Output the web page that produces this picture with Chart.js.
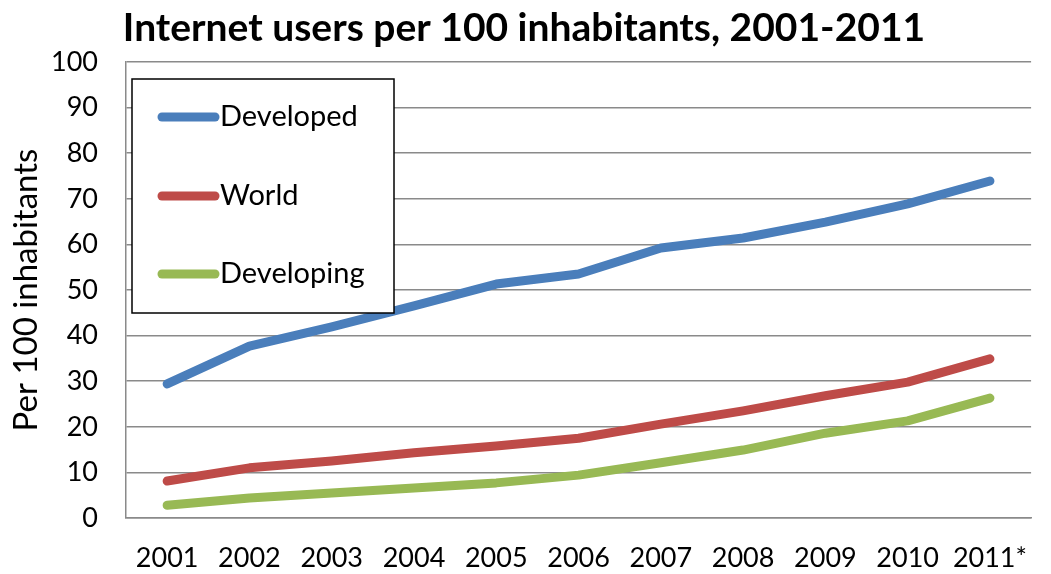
<!DOCTYPE html>
<html>
<head>
<meta charset="utf-8">
<script src="https://cdn.jsdelivr.net/npm/chart.js@4.4.1/dist/chart.umd.min.js"></script>
<style>
html,body{margin:0;padding:0;background:#fff;}
#wrap{width:1051px;height:574px;position:relative;}
</style>
</head>
<body>
<div id="wrap"><canvas id="c" width="1051" height="574"></canvas></div>
<script>
const years = ["2001","2002","2003","2004","2005","2006","2007","2008","2009","2010","2011*"];
const developed = [29.4, 37.7, 41.9, 46.5, 51.3, 53.5, 59.2, 61.4, 64.9, 68.9, 73.9];
const world = [8.1, 11.0, 12.5, 14.3, 15.8, 17.5, 20.6, 23.5, 26.8, 29.8, 34.9];
const developing = [2.8, 4.4, 5.5, 6.6, 7.7, 9.4, 12.1, 14.9, 18.6, 21.3, 26.3];
const seriesNames = ["Developed", "World", "Developing"];
const seriesColors = ["#4a7ebb", "#be4b48", "#98b954"];
const chartTitle = "Internet users per 100 inhabitants, 2001-2011";
const yTitle = "Per 100 inhabitants";

const FONT = "Lato, 'Open Sans', sans-serif";
const gridColor = "#8a8a8a";

const overlay = {
  id: "overlay",
  afterDraw(chart) {
    const ctx = chart.ctx;
    ctx.save();
    // Title
    ctx.fillStyle = "#000";
    ctx.font = "bold 39px " + FONT;
    ctx.textAlign = "center";
    ctx.textBaseline = "middle";
    ctx.fillText(chartTitle, 524, 28);
    // Legend box
    const bx = 132, by = 79, bw = 262, bh = 234;
    ctx.fillStyle = "#fff";
    ctx.fillRect(bx, by, bw, bh);
    ctx.strokeStyle = "#000";
    ctx.lineWidth = 1.5;
    ctx.strokeRect(bx, by, bw, bh);
    const ys = [117, 196, 274];
    chart.data.datasets.forEach((ds, i) => {
      ctx.strokeStyle = ds.borderColor;
      ctx.lineWidth = 9;
      ctx.lineCap = "round";
      ctx.beginPath();
      ctx.moveTo(162, ys[i]);
      ctx.lineTo(215, ys[i]);
      ctx.stroke();
      ctx.fillStyle = "#000";
      ctx.font = "29px " + FONT;
      ctx.textAlign = "left";
      ctx.textBaseline = "middle";
      ctx.fillText(ds.label, 220, ys[i]);
    });
    ctx.restore();
  }
};

new Chart(document.getElementById("c"), {
  type: "line",
  data: {
    labels: years,
    datasets: [
      { label: seriesNames[0], data: developed, borderColor: seriesColors[0] },
      { label: seriesNames[1], data: world, borderColor: seriesColors[1] },
      { label: seriesNames[2], data: developing, borderColor: seriesColors[2] }
    ].map(d => Object.assign(d, {
      borderWidth: 9, pointRadius: 0, tension: 0, fill: false,
      borderCapStyle: "round", borderJoinStyle: "round"
    }))
  },
  options: {
    responsive: false,
    animation: false,
    layout: { padding: { top: 62, right: 0, left: 0, bottom: 0 } },
    plugins: { legend: { display: false }, title: { display: false }, tooltip: { enabled: false } },
    scales: {
      x: {
        offset: true,
        grid: { display: false, drawTicks: false },
        border: { display: true, color: gridColor, width: 1.5 },
        ticks: { color: "#000", font: { family: FONT, size: 27 }, padding: 24, maxRotation: 0, autoSkip: false },
        afterFit(s) { s.height = 56; }
      },
      y: {
        min: 0, max: 100,
        ticks: { stepSize: 10, color: "#000", font: { family: FONT, size: 27 }, padding: 28 },
        grid: { color: gridColor, lineWidth: 1.5, drawTicks: false },
        border: { display: true, color: gridColor, width: 1.5 },
        title: { display: true, text: yTitle, color: "#000", font: { family: FONT, size: 33 }, padding: { top: 7, bottom: 0 } },
        afterFit(s) { s.width = 126; }
      }
    }
  },
  plugins: [overlay]
});
</script>
</body>
</html>
